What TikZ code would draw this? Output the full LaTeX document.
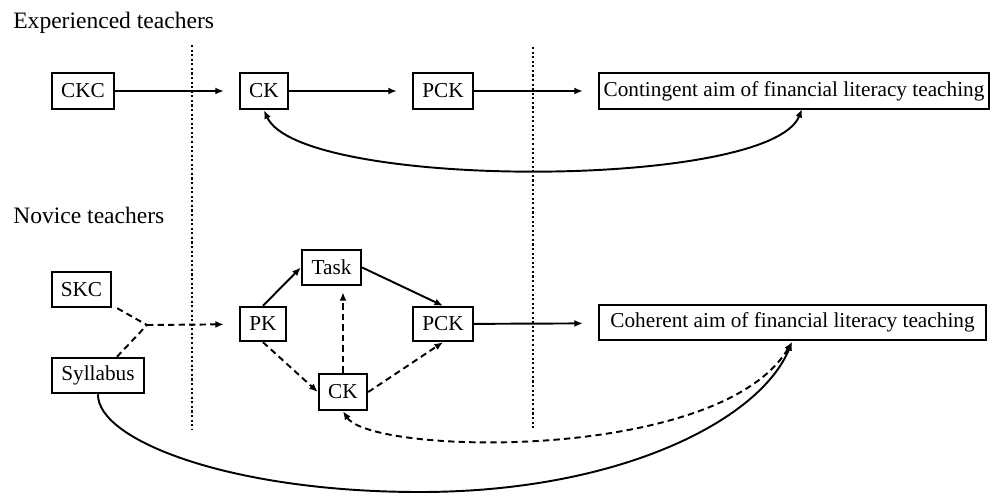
\documentclass[tikz,border=0pt]{standalone}
\usepackage{fontspec}
\setmainfont{Liberation Serif}
\usetikzlibrary{arrows.meta,calc}
\begin{document}
\begin{tikzpicture}[x=0.02cm,y=-0.02cm,
  box/.style={draw,line width=1.4pt,inner sep=0pt,font=\fontsize{12.1}{14}\selectfont},
  conn/.style={line width=1.1pt,-{Latex[length=1.7mm,width=1.4mm]}},
  dconn/.style={conn,dash pattern=on 3.6pt off 2.4pt},
  twoway/.style={line width=1.1pt,{Latex[length=1.7mm,width=1.4mm]}-{Latex[length=1.7mm,width=1.4mm]}},
  gap/.style={shorten >=0.3cm},
  divider/.style={line width=1.2pt,dash pattern=on 1.2pt off 1.4pt},
  title/.style={anchor=base west,inner sep=0pt,font=\fontsize{13.4}{15}\selectfont}]
\useasboundingbox (0,0) rectangle (992,495);

% titles
\node[title] (exp) at (13,28) {Experienced teachers};
\node[title] (nov) at (13,223) {Novice teachers};

% dividers
\draw[divider] (192,45) coordinate (d1t) -- (192,430) coordinate (d1b);
\draw[divider] (533,47) coordinate (d2t) -- (533,430) coordinate (d2b);

% experienced row
\node[box,minimum width=1.24cm,minimum height=0.72cm] (ckc) at (83,91) {CKC};
\node[box,minimum width=0.96cm,minimum height=0.72cm] (ck1) at (264,91) {CK};
\node[box,minimum width=1.20cm,minimum height=0.72cm] (pck1) at (443,91) {PCK};
\node[box,minimum width=7.80cm,minimum height=0.72cm] (cont) at (794,91) {Contingent aim of financial literacy teaching};

\draw[conn,gap] (ckc) -- (ck1);
\draw[conn,gap] (ck1) -- (pck1);
\draw[conn,gap] (pck1) -- (cont);
\coordinate (contin) at (802,109);
\draw[twoway] (ck1.south) .. controls (300,190) and (770,190) .. (contin);

% novice part
\node[box,minimum width=1.18cm,minimum height=0.70cm] (skc) at (81.5,289.5) {SKC};
\node[box,minimum width=1.84cm,minimum height=0.70cm] (syl) at (98,375.5) {Syllabus};
\node[box,minimum width=0.92cm,minimum height=0.68cm] (pk) at (263,324) {PK};
\node[box,minimum width=1.18cm,minimum height=0.70cm] (task) at (331.5,267.5) {Task};
\node[box,minimum width=1.20cm,minimum height=0.68cm] (pck2) at (443,324) {PCK};
\node[box,minimum width=0.96cm,minimum height=0.72cm] (ck2) at (343,392) {CK};
\node[box,minimum width=7.74cm,minimum height=0.70cm] (coh) at (792.5,322.5) {Coherent aim of financial literacy teaching};

\coordinate (j) at (147,325);
\draw[line width=1.1pt,dash pattern=on 3.6pt off 2.4pt] ($(skc.south east)+(5,0)$) -- (j);
\draw[line width=1.1pt,dash pattern=on 3.6pt off 2.4pt] ($(syl.north)+(19,0)$) -- (j);
\draw[dconn,gap] (j) -- (pk);

\draw[conn] (pk.north) -- (task.west);
\draw[conn] (task.east) -- (pck2.north);
\draw[dconn] (pk.south) -- (ck2.west);
\draw[dconn,shorten >=0.12cm] (ck2.north) -- (ck2.north |- task.south);
\draw[dconn] (ck2.east) -- (pck2.south);
\draw[conn,gap] (pck2) -- (coh);

\coordinate (cohin) at (792,342);
\draw[twoway,dash pattern=on 3.6pt off 2.4pt] (ck2.south) .. controls (372,455) and (720,463) .. (cohin);
\draw[conn] (syl.south) .. controls (97,440) and (230,492) .. (420,492) .. controls (620,492) and (760,420) .. (cohin);
\end{tikzpicture}
\end{document}
